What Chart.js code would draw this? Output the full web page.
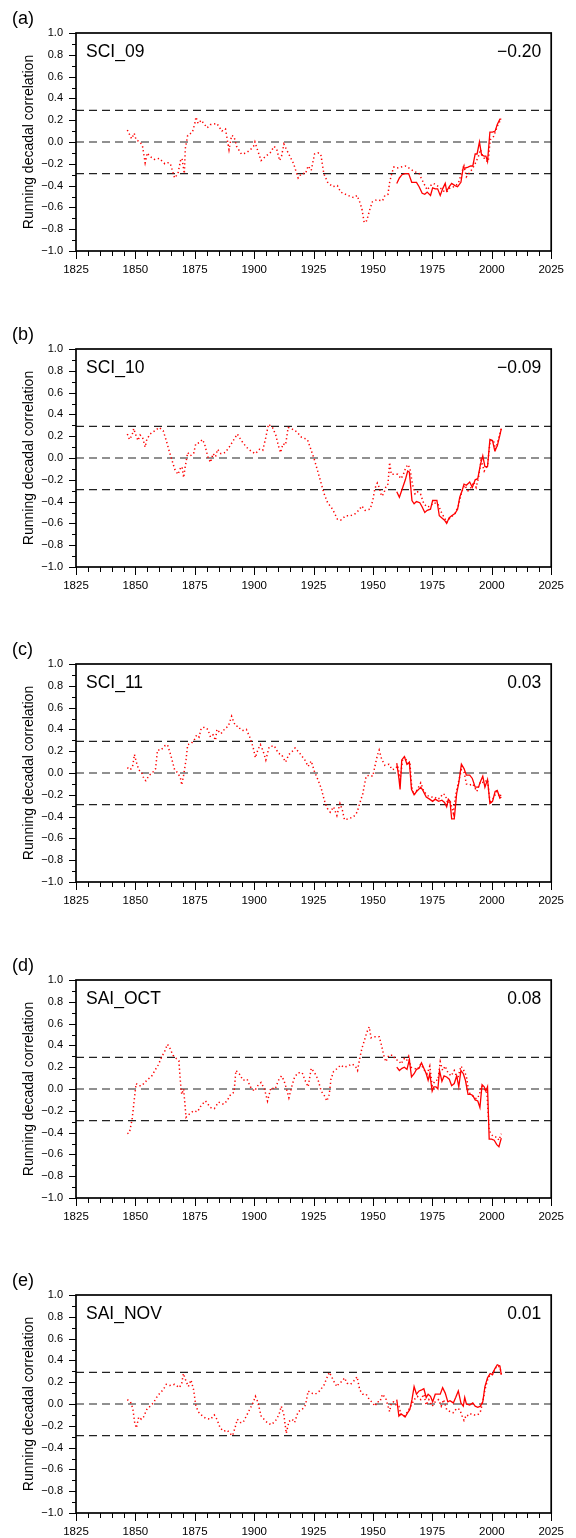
<!DOCTYPE html>
<html>
<head>
<meta charset="utf-8">
<script src="https://cdn.jsdelivr.net/npm/chart.js@4.4.1/dist/chart.umd.min.js"></script>
<style>
  html, body { margin: 0; padding: 0; background: #fff; overflow: hidden; }
  #wrap { position: relative; width: 576px; height: 1538px; }
  .panel { position: absolute; left: 0; width: 576px; }
  canvas { display: block; }
</style>
</head>
<body>
<div id="wrap"></div>
<script>
// ---------------- DATA ----------------
const panelLetters = ['(a)', '(b)', '(c)', '(d)', '(e)'];
const indexNames   = ['SCI_09', 'SCI_10', 'SCI_11', 'SAI_OCT', 'SAI_NOV'];
const corrLabels   = ['\u22120.20', '\u22120.09', '0.03', '0.08', '0.01'];
const thresholds   = [0.29, 0, -0.29];
const yearRange    = [1825, 2025];
const xTickValues  = [1825, 1850, 1875, 1900, 1925, 1950, 1975, 2000, 2025];
const yTickValues  = [-1.0, -0.8, -0.6, -0.4, -0.2, 0.0, 0.2, 0.4, 0.6, 0.8, 1.0];
const yAxisTitle   = 'Running decadal correlation';

// (a) SCI_09
const sci09DotYears = [
  1846.6,1848.4,1849.5,1850.3,1852,1853,1854.1,1855,1856,1858,
  1860,1862.4,1863.7,1864.7,1866.5,1867.9,1869,1869.6,1870.6,1871,
  1872,1874,1875,1875.5,1876.4,1877.7,1880.2,1881.6,1884.3,1886.4,
  1887.9,1889.4,1890.5,1891.5,1892.6,1894.6,1896.7,1898.4,1899.7,1900.3,
  1901.2,1902.9,1904.9,1906.7,1908.4,1909.5,1910.7,1911.5,1912.5,1914.3,
  1916.6,1917.9,1918.5,1919.9,1921.6,1922.7,1924,1925.4,1926.8,1928,
  1929.3,1930.9,1933,1935,1936.4,1938.5,1940.5,1941.9,1943.3,1944.4,
  1945.3,1946.3,1947.4,1948.5,1949.7,1951.5,1954,1955,1956.3,1957,
  1958,1958.8,1960,1961.8,1963.6,1965.2,1967.3,1969.4,1970.7,1972.8,
  1974.2,1975.5,1976.9,1978.3,1979.7,1981,1982.4,1984.2,1985.9,1987.2,
  1988.3,1989.3,1990.7,1992,1993.4,1994.4,1995.2,1996.2,1997.5,1998.5,
  1999.3,2000.7,2001.6,2002.6,2003.7];
const sci09DotVals = [
  0.11,0.03,0.08,0.02,0.00,-0.04,-0.19,-0.10,-0.13,-0.16,
  -0.15,-0.20,-0.19,-0.20,-0.33,-0.29,-0.17,-0.15,-0.29,-0.06,
  0.06,0.09,0.17,0.23,0.17,0.20,0.13,0.16,0.17,0.10,
  0.12,-0.07,0.06,0.05,-0.04,-0.11,-0.10,-0.07,-0.04,0.00,
  -0.06,-0.17,-0.13,-0.10,-0.04,-0.07,-0.17,-0.13,-0.02,-0.10,
  -0.20,-0.29,-0.33,-0.29,-0.29,-0.22,-0.26,-0.11,-0.10,-0.11,
  -0.29,-0.37,-0.41,-0.40,-0.46,-0.48,-0.50,-0.51,-0.49,-0.55,
  -0.61,-0.74,-0.72,-0.63,-0.55,-0.53,-0.54,-0.49,-0.48,-0.37,
  -0.28,-0.23,-0.24,-0.23,-0.22,-0.24,-0.27,-0.29,-0.35,-0.44,
  -0.40,-0.38,-0.40,-0.42,-0.45,-0.46,-0.42,-0.41,-0.38,-0.29,
  -0.22,-0.32,-0.28,-0.24,-0.18,-0.13,-0.07,-0.13,-0.17,-0.18,
  0.02,0.05,0.10,0.16,0.20];
const sci09SolidYears = [
  1960,1961.1,1962.2,1963.5,1965,1966.3,1967.3,1968.3,1969.4,1970.7,
  1971.8,1972.8,1974.2,1975.1,1976.2,1977.2,1978.3,1979.3,1980.4,1981,
  1982.1,1983.1,1984.5,1985.6,1987,1988,1988.6,1990,1991.1,1992,
  1993,1993.8,1994.8,1995.7,1996.8,1997.5,1998.2,1999.2,2000.3,2001.4,
  2002.3,2003.4,2004];
const sci09SolidVals = [
  -0.38,-0.33,-0.30,-0.29,-0.29,-0.37,-0.37,-0.37,-0.41,-0.47,
  -0.48,-0.46,-0.49,-0.42,-0.43,-0.43,-0.49,-0.43,-0.38,-0.45,
  -0.41,-0.38,-0.40,-0.41,-0.37,-0.23,-0.24,-0.23,-0.22,-0.22,
  -0.11,-0.11,0.00,-0.12,-0.13,-0.13,-0.18,0.09,0.09,0.10,
  0.16,0.21,0.21];

// (b) SCI_10
const sci10DotYears = [
  1846.6,1847.5,1848.6,1849.3,1850,1851.1,1852,1853,1854.1,1854.8,
  1856.2,1858.2,1860,1861.7,1863,1864.4,1865.4,1866.5,1867.9,1869,
  1869.6,1870.3,1870.9,1872,1873.1,1874.5,1875.4,1876.8,1878.2,1879.1,
  1880.5,1881.6,1882.7,1883.7,1884.6,1886,1887.8,1889.8,1891.2,1892.9,
  1894.6,1896.7,1898.8,1900.5,1902.2,1903.6,1904.9,1906,1907.7,1909.1,
  1910.2,1911.1,1912.1,1913.2,1914.3,1915.7,1917.9,1919.9,1922.4,1924,
  1925.4,1927.5,1929.3,1930.9,1933,1935,1936.4,1938.5,1940.5,1942.6,
  1944,1945.3,1946.7,1948.8,1949.9,1950.8,1951.8,1952.6,1953.6,1954.5,
  1955.6,1956.3,1957,1957.7,1959.1,1960.4,1961.8,1962.8,1963.6,1964.6,
  1965.5,1966.6,1967.7,1968.7,1970,1971.4,1972.8,1974.2,1975.5,1977.3,
  1979,1980.1,1981,1982.4,1984.5,1985.9,1987.5,1988.6,1990,1991.3,
  1992.4,1993.4,1994.4,1995.5,1996.8,1998.2,1999.3,2000.7,2001.6,2003,
  2004];
const sci10DotVals = [
  0.22,0.17,0.21,0.27,0.22,0.16,0.21,0.19,0.10,0.17,
  0.22,0.25,0.28,0.25,0.16,0.05,-0.02,-0.10,-0.15,-0.09,
  -0.08,-0.18,-0.09,0.05,0.02,0.04,0.13,0.14,0.17,0.13,
  0.01,-0.04,0.04,0.01,0.08,0.04,0.05,0.11,0.16,0.22,
  0.16,0.10,0.06,0.04,0.08,0.07,0.19,0.31,0.28,0.21,
  0.11,0.05,0.13,0.12,0.28,0.27,0.24,0.19,0.17,0.07,
  -0.02,-0.18,-0.32,-0.41,-0.47,-0.56,-0.57,-0.53,-0.53,-0.51,
  -0.48,-0.44,-0.48,-0.47,-0.39,-0.28,-0.23,-0.27,-0.35,-0.33,
  -0.25,-0.24,-0.04,-0.15,-0.15,-0.15,-0.19,-0.15,-0.10,-0.06,
  -0.09,-0.24,-0.33,-0.31,-0.33,-0.42,-0.45,-0.44,-0.41,-0.42,
  -0.51,-0.55,-0.59,-0.55,-0.51,-0.44,-0.30,-0.25,-0.30,-0.27,
  -0.22,-0.27,-0.18,-0.02,-0.12,-0.07,0.16,0.16,0.08,0.19,
  0.27];
const sci10SolidYears = [
  1960,1961.1,1962.5,1963.6,1964.6,1965.3,1966.4,1967.3,1968.3,1969.7,
  1970.7,1971.8,1972.8,1974.2,1975.1,1976.9,1977.9,1979,1980.1,1981,
  1982,1983.1,1984.5,1985.6,1986.5,1987.5,1988.3,1989.3,1990.7,1991.8,
  1993,1994.1,1995.2,1996.2,1997.1,1998.2,1999.2,2000.3,2001.2,2002.3,
  2003.4,2004];
const sci10SolidVals = [
  -0.31,-0.36,-0.27,-0.20,-0.12,-0.13,-0.39,-0.42,-0.40,-0.41,
  -0.45,-0.50,-0.48,-0.47,-0.39,-0.39,-0.53,-0.55,-0.57,-0.60,
  -0.55,-0.53,-0.51,-0.47,-0.36,-0.30,-0.24,-0.25,-0.22,-0.27,
  -0.20,-0.19,-0.06,0.02,-0.08,-0.08,0.17,0.16,0.07,0.11,
  0.21,0.27];

// (c) SCI_11
const sci11DotYears = [
  1846.6,1847.9,1848.9,1849.6,1850.4,1851.4,1852.7,1853.7,1854.4,1855.8,
  1857.1,1858.5,1859.3,1860.7,1862.4,1863.5,1864.8,1866.5,1867.9,1869,
  1869.5,1870.3,1871.3,1872,1873.4,1874.7,1875.8,1876.8,1877.7,1879.1,
  1880.5,1881.6,1882.7,1883.7,1884.3,1886,1887.8,1889.1,1890.5,1891.5,
  1892.3,1893.3,1894.2,1895.3,1896.7,1898.1,1899.5,1900.5,1901.5,1902.6,
  1903.6,1904.9,1906.3,1908.4,1910.2,1911.5,1913.2,1914.6,1916.6,1917.2,
  1919.2,1921.3,1922.7,1924,1925.4,1926.8,1928.2,1929.5,1930.6,1932,
  1933.4,1934.8,1936.1,1937.1,1938,1939.8,1941.9,1943.3,1944.4,1945.7,
  1947.1,1948.5,1949.9,1950.8,1951.8,1952.6,1953.6,1955,1956.7,1958.1,
  1959.5,1960.4,1961.4,1962.5,1963.6,1964.6,1965.5,1966.3,1967.3,1968.7,
  1970.1,1971.4,1973.2,1974.6,1976,1976.9,1978.3,1979.3,1980.4,1981.5,
  1982.4,1983.8,1984.8,1985.9,1987.2,1988.3,1989.3,1990.7,1992,1993.7,
  1995.2,1996.8,1998.2,1999.3,2000.7,2002.1,2003.4,2004];
const sci11DotVals = [
  0.05,0.03,0.07,0.17,0.10,0.03,0.00,-0.06,-0.07,-0.02,
  0.00,0.04,0.21,0.21,0.25,0.26,0.17,0.03,0.00,-0.05,
  -0.11,-0.02,0.12,0.26,0.27,0.30,0.35,0.33,0.41,0.42,
  0.40,0.33,0.35,0.30,0.40,0.36,0.41,0.43,0.52,0.46,
  0.43,0.43,0.40,0.39,0.40,0.33,0.24,0.14,0.21,0.26,
  0.21,0.12,0.24,0.25,0.18,0.17,0.10,0.17,0.21,0.23,
  0.18,0.12,0.06,0.11,0.01,-0.06,-0.14,-0.25,-0.32,-0.36,
  -0.31,-0.39,-0.28,-0.34,-0.43,-0.42,-0.40,-0.36,-0.28,-0.19,
  -0.03,-0.02,-0.03,0.06,0.16,0.21,0.13,0.07,0.08,0.03,
  0.04,0.07,-0.06,0.13,0.15,0.07,0.10,-0.13,-0.20,-0.15,
  -0.09,-0.17,-0.21,-0.22,-0.22,-0.24,-0.23,-0.19,-0.20,-0.28,
  -0.25,-0.37,-0.20,-0.09,0.03,0.01,-0.10,-0.11,-0.10,-0.17,
  -0.08,-0.09,-0.06,-0.28,-0.23,-0.17,-0.22,-0.19];
const sci11SolidYears = [
  1960,1960.9,1961.4,1962.1,1963.2,1964.3,1965.3,1966.2,1967.3,1968.3,
  1970.1,1971,1972.4,1973.8,1975.1,1976.2,1977.6,1979,1980.1,1981,
  1981.7,1982.4,1983.1,1984.2,1985.2,1986.1,1987.2,1988.3,1989.3,1990.7,
  1991.8,1993,1994.4,1995.2,1996.2,1997.1,1998.2,1999.2,2000.3,2001.4,
  2002.3,2003.4,2004];
const sci11SolidVals = [
  0.09,-0.05,-0.15,0.12,0.15,0.08,0.10,-0.15,-0.20,-0.17,
  -0.13,-0.16,-0.22,-0.24,-0.26,-0.24,-0.26,-0.25,-0.27,-0.31,
  -0.24,-0.26,-0.42,-0.42,-0.19,-0.09,0.08,0.04,-0.02,-0.02,
  -0.05,-0.13,-0.13,-0.08,-0.03,-0.13,-0.06,-0.28,-0.26,-0.17,
  -0.16,-0.23,-0.22];

// (d) SAI_OCT
const saiOctDotYears = [
  1846.6,1847.5,1848.6,1849.3,1850.3,1851.4,1852.7,1854.8,1856.9,1858.2,
  1859.6,1861,1862.4,1863.5,1864.4,1865.8,1867.2,1868.3,1869,1869.5,
  1870.3,1871.3,1872.7,1874.5,1876.1,1877.7,1879.5,1881.6,1883.2,1885,
  1887.1,1888.5,1890.1,1891.5,1892.3,1893.7,1895.3,1897,1898.4,1900.1,
  1901.5,1902.9,1904.3,1905.6,1907,1908.8,1910.2,1911.5,1912.5,1913.6,
  1914.6,1915.9,1917,1918.5,1920.2,1921.6,1922.7,1924,1925.4,1926.8,
  1928.2,1929.5,1930.6,1931.6,1932.3,1933.4,1935,1936.4,1937.8,1939.4,
  1941.2,1942.6,1943.5,1944.4,1945.3,1946.3,1947.4,1948.4,1949.2,1950.1,
  1951.5,1952.6,1953.6,1954.5,1955.4,1956.7,1958.4,1959.5,1960.9,1961.8,
  1963.2,1964.1,1965,1965.9,1967.3,1968.7,1970.1,1971.4,1972.8,1973.9,
  1974.9,1976.2,1977.3,1978.3,1979.3,1980.4,1981.5,1982.9,1984.2,1985.6,
  1987,1988,1989.3,1990.3,1991.3,1992.7,1993.8,1994.8,1995.7,1996.8,
  1997.9,1998.9,1999.9,2001,2002.1,2003,2004];
const saiOctDotVals = [
  -0.41,-0.40,-0.28,-0.14,0.05,0.03,0.03,0.08,0.12,0.17,
  0.22,0.29,0.35,0.41,0.38,0.31,0.28,0.26,0.05,-0.05,
  0.00,-0.26,-0.23,-0.20,-0.21,-0.15,-0.11,-0.17,-0.18,-0.12,
  -0.14,-0.11,-0.05,-0.03,0.17,0.14,0.08,0.09,0.02,-0.02,
  0.03,0.06,0.00,-0.11,0.01,0.00,0.08,0.12,0.08,0.00,
  -0.08,0.03,0.11,0.15,0.15,0.07,0.02,0.19,0.15,0.09,
  -0.02,-0.06,-0.11,-0.05,0.09,0.16,0.19,0.22,0.20,0.21,
  0.23,0.21,0.17,0.28,0.37,0.44,0.52,0.57,0.47,0.48,
  0.48,0.48,0.40,0.31,0.25,0.31,0.31,0.27,0.26,0.23,
  0.28,0.26,0.30,0.20,0.19,0.18,0.23,0.18,0.14,0.21,
  0.03,0.08,0.08,0.25,0.17,0.21,0.15,0.12,0.17,0.09,
  0.21,0.18,0.12,-0.03,-0.05,-0.08,-0.09,-0.05,0.03,0.00,
  -0.02,-0.38,-0.42,-0.44,-0.44,-0.47,-0.41];
const saiOctSolidYears = [
  1960,1961.1,1962.2,1963.2,1964.3,1965.3,1966.2,1967.3,1968.3,1969.4,
  1970.4,1971.4,1972.4,1973.2,1973.9,1974.9,1975.6,1976.5,1977.3,1978,
  1979,1979.9,1981,1982.1,1983.1,1984.2,1985.2,1986.1,1987,1988,
  1988.9,1990,1991.1,1992,1993,1994.1,1995,1995.9,1996.8,1997.5,
  1998.2,1998.9,1999.9,2001,2002.1,2003,2004];
const saiOctSolidVals = [
  0.20,0.17,0.19,0.20,0.18,0.27,0.11,0.14,0.18,0.19,
  0.24,0.19,0.14,0.08,0.14,-0.02,0.02,0.02,0.00,0.17,
  0.07,0.12,0.11,0.09,0.03,0.05,0.12,0.02,0.17,0.14,
  0.08,-0.05,-0.05,-0.06,-0.10,-0.11,-0.17,0.04,0.02,-0.02,
  0.02,-0.46,-0.46,-0.47,-0.51,-0.53,-0.45];

// (e) SAI_NOV
const saiNovDotYears = [
  1846.6,1847.9,1848.9,1849.7,1850.4,1851.4,1852.5,1853.4,1854.8,1856.2,
  1857.6,1858.9,1860.3,1861.7,1863,1864.4,1866.5,1868.5,1869.5,1870.2,
  1871.3,1872.3,1873.4,1874.5,1875.4,1876.4,1877.7,1879.5,1881.6,1883.2,
  1884.3,1885.7,1887.1,1888.7,1889.8,1890.9,1891.9,1892.9,1894.2,1895.3,
  1896.7,1898.1,1899.5,1900.5,1901.5,1902.9,1904.9,1907,1908.8,1910.4,
  1911.4,1912.5,1913.5,1914.6,1916,1917,1918.5,1920.2,1921.6,1922.7,
  1924,1925.7,1927.5,1929.3,1930.6,1931.6,1932.6,1933.7,1934.8,1935.7,
  1937.1,1938,1939.1,1940.5,1941.9,1943.3,1944.4,1945.7,1947.1,1948.5,
  1949.9,1950.8,1951.8,1952.9,1954,1955.4,1956.3,1957,1957.7,1958.7,
  1959.8,1960.9,1961.8,1963.2,1964.6,1965.9,1967.3,1968.7,1970.1,1971.4,
  1972.4,1973.5,1974.9,1976.2,1977.6,1978.7,1979.7,1981,1982.4,1983.8,
  1985.2,1986.5,1987.5,1988.3,1989.3,1990.3,1991.3,1992.7,1994.1,1995.2,
  1996.2,1997.1,1998.2,1999.3,2000.3,2001.2,2002.3,2003.4,2004];
const saiNovDotVals = [
  0.04,0.02,-0.04,-0.17,-0.22,-0.12,-0.14,-0.12,-0.05,-0.02,
  0.01,0.06,0.10,0.13,0.18,0.17,0.18,0.15,0.19,0.28,
  0.21,0.16,0.22,0.13,-0.01,-0.07,-0.10,-0.13,-0.14,-0.10,
  -0.14,-0.22,-0.25,-0.24,-0.27,-0.29,-0.22,-0.14,-0.17,-0.17,
  -0.11,-0.05,0.01,0.07,0.02,-0.11,-0.16,-0.19,-0.16,-0.10,
  -0.02,-0.10,-0.27,-0.16,-0.14,-0.17,-0.07,-0.05,-0.01,0.12,
  0.10,0.09,0.12,0.17,0.24,0.29,0.25,0.20,0.16,0.19,
  0.21,0.24,0.19,0.18,0.21,0.25,0.13,0.09,0.09,0.04,
  0.01,-0.02,0.02,0.02,0.09,0.05,-0.02,-0.07,0.01,0.02,
  -0.01,-0.02,-0.10,-0.11,-0.07,-0.02,0.04,0.07,0.04,0.09,
  -0.01,0.04,-0.02,0.02,0.04,-0.02,0.04,-0.05,-0.07,-0.08,
  -0.04,-0.05,-0.11,-0.15,-0.10,-0.11,-0.09,-0.10,-0.10,-0.07,
  0.02,0.13,0.22,0.27,0.27,0.32,0.35,0.34,0.27];
const saiNovSolidYears = [
  1960,1960.9,1961.8,1962.5,1963.5,1964.6,1965.5,1966.4,1967.3,1968.3,
  1969.4,1970.5,1971.4,1972.4,1973.2,1974.2,1975.1,1976.2,1977.6,1978.3,
  1979.3,1980.4,1981.5,1982.4,1983.8,1984.8,1985.9,1987,1988,1988.6,
  1989.3,1990.7,1992,1993,1994.1,1995.2,1996.2,1997.1,1998.2,1999.3,
  2000.3,2001.2,2002.3,2003.4,2004];
const saiNovSolidVals = [
  0.04,-0.11,-0.09,-0.10,-0.12,-0.08,-0.05,0.04,0.16,0.09,
  0.12,0.13,0.14,0.06,0.09,0.07,0.02,0.09,0.09,0.09,
  0.15,0.10,0.02,0.03,0.01,0.06,0.12,0.01,-0.02,0.06,
  0.00,-0.01,0.01,-0.02,-0.03,-0.02,0.02,0.16,0.24,0.28,
  0.27,0.32,0.36,0.35,0.27];

// ---------------- LAYOUT ----------------
const FONT = "'Liberation Sans', Arial, Helvetica, sans-serif";
const CANVAS_H = 290;
const panelTops = [0, 316, 631, 947, 1262];
const AREA = { left: 76, right: 561, top: 33, bottom: 251 };

const panels = [
  { dx: sci09DotYears,  dy: sci09DotVals,  sx: sci09SolidYears,  sy: sci09SolidVals },
  { dx: sci10DotYears,  dy: sci10DotVals,  sx: sci10SolidYears,  sy: sci10SolidVals },
  { dx: sci11DotYears,  dy: sci11DotVals,  sx: sci11SolidYears,  sy: sci11SolidVals },
  { dx: saiOctDotYears, dy: saiOctDotVals, sx: saiOctSolidYears, sy: saiOctSolidVals },
  { dx: saiNovDotYears, dy: saiNovDotVals, sx: saiNovSolidYears, sy: saiNovSolidVals }
];

function fmtTick(v) {
  const s = Number(v).toFixed(1);
  return s.startsWith('-') ? '\u2212' + s.slice(1) : s;
}

const decorPlugin = {
  id: 'decor',
  afterDraw(chart, args, opts) {
    const ctx = chart.ctx;
    const { left, right, top, bottom } = chart.chartArea;
    const xs = chart.scales.x, ys = chart.scales.y;
    ctx.save();
    // tick marks (major + minor)
    ctx.strokeStyle = '#000';
    ctx.lineWidth = 1;
    ctx.beginPath();
    for (let k = 0; k <= 20; k++) {
      const v = -1 + k * 0.1;
      const p = Math.round(ys.getPixelForValue(v)) + 0.5;
      const len = (k % 2 === 0) ? 7 : 4;
      ctx.moveTo(left - len, p); ctx.lineTo(left, p);
    }
    for (let yr = yearRange[0]; yr <= yearRange[1]; yr += 5) {
      const p = Math.round(xs.getPixelForValue(yr)) + 0.5;
      const len = ((yr - yearRange[0]) % 25 === 0) ? 8 : 5;
      ctx.moveTo(p, bottom); ctx.lineTo(p, bottom + len);
    }
    ctx.stroke();
    // frame
    ctx.lineWidth = 1.7;
    ctx.strokeRect(left, top, right - left, bottom - top);
    // texts
    ctx.fillStyle = '#000';
    ctx.font = '18px ' + FONT;
    ctx.textAlign = 'left';
    ctx.textBaseline = 'middle';
    ctx.fillText(opts.letter, 12, top - 14);
    ctx.font = '17.5px ' + FONT;
    ctx.textBaseline = 'alphabetic';
    ctx.fillText(opts.name, left + 10, top + 23.5);
    ctx.textAlign = 'right';
    ctx.fillText(opts.corr, right - 10, top + 23.5);
    ctx.restore();
  }
};

const wrap = document.getElementById('wrap');

panels.forEach((p, i) => {
  const div = document.createElement('div');
  div.className = 'panel';
  div.style.top = panelTops[i] + 'px';
  div.style.height = CANVAS_H + 'px';
  const cv = document.createElement('canvas');
  cv.width = 576; cv.height = CANVAS_H;
  cv.style.width = '576px'; cv.style.height = CANVAS_H + 'px';
  div.appendChild(cv);
  wrap.appendChild(div);

  const threshSets = thresholds.map(t => ({
    data: yearRange.map(yr => ({ x: yr, y: t })),
    borderColor: '#222',
    borderWidth: 1.2,
    borderDash: [8, 5],
    pointRadius: 0,
    fill: false,
    order: 3
  }));

  new Chart(cv, {
    type: 'line',
    data: {
      datasets: [
        ...threshSets,
        {
          data: p.dx.map((x, k) => ({ x, y: p.dy[k] })),
          borderColor: '#ff0000',
          borderWidth: 1.5,
          borderDash: [1.3, 2.7],
          pointRadius: 0,
          tension: 0,
          fill: false,
          order: 2
        },
        {
          data: p.sx.map((x, k) => ({ x, y: p.sy[k] })),
          borderColor: '#ff0000',
          borderWidth: 1.3,
          pointRadius: 0,
          tension: 0,
          fill: false,
          order: 1
        }
      ]
    },
    options: {
      responsive: false,
      animation: false,
      devicePixelRatio: 1,
      layout: { padding: { top: AREA.top, right: 576 - AREA.right, left: 0, bottom: 0 } },
      plugins: {
        legend: { display: false },
        tooltip: { enabled: false },
        decor: { letter: panelLetters[i], name: indexNames[i], corr: corrLabels[i] }
      },
      scales: {
        x: {
          type: 'linear',
          min: yearRange[0], max: yearRange[1],
          afterBuildTicks: s => { s.ticks = xTickValues.map(v => ({ value: v })); },
          afterFit: s => { s.height = CANVAS_H - AREA.bottom; },
          grid: { display: false, drawTicks: false },
          border: { display: false },
          ticks: {
            autoSkip: false, maxRotation: 0, padding: 12,
            color: '#000', font: { family: FONT, size: 11.5 },
            callback: v => String(v)
          }
        },
        y: {
          type: 'linear',
          min: -1, max: 1,
          afterBuildTicks: s => { s.ticks = yTickValues.map(v => ({ value: v })); },
          afterFit: s => { s.width = AREA.left; },
          grid: { display: false, drawTicks: false },
          border: { display: false },
          ticks: {
            padding: 13, color: '#000', font: { family: FONT, size: 11 },
            callback: v => fmtTick(v)
          },
          title: {
            display: true, text: yAxisTitle, color: '#000',
            font: { family: FONT, size: 14 },
            padding: { top: 21, bottom: 0 }
          }
        }
      }
    },
    plugins: [decorPlugin]
  });
});
</script>
</body>
</html>
